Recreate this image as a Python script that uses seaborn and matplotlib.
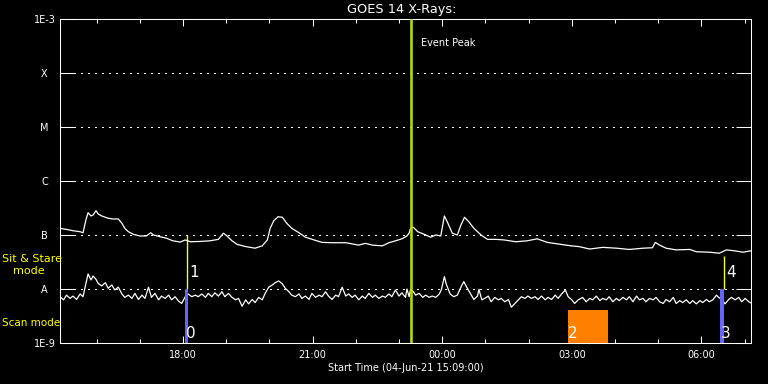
import numpy as np
import matplotlib
matplotlib.use("Agg")
import matplotlib.pyplot as plt
from matplotlib.ticker import NullLocator, FixedLocator
import seaborn as sns

# ---------------- data ----------------
title = "GOES 14 X-Rays:"
x_label = "Start Time (04-Jun-21 15:09:00)"

# minutes after start (15:09 UT), long channel (upper curve), flux in units of 1e-7 W/m^2
time_long_min = [0, 9, 18, 28, 32, 36, 39, 43, 46, 50, 53, 58, 63, 67, 74, 81, 86, 90, 95, 102,
                 111, 120, 126, 130, 139, 148, 157, 167, 174, 181, 195, 208, 220, 227, 232, 239, 246, 258, 271, 281,
                 288, 292, 297, 303, 309, 315, 322, 332, 341, 353, 364, 378, 397, 415, 424, 434, 448, 457, 466, 475,
                 482, 485, 487, 491, 497, 506, 515, 522, 529, 534, 538, 545, 552, 557, 562, 568, 575, 585, 594, 606,
                 617, 633, 649, 663, 677, 696, 710, 721, 736, 754, 773, 791, 810, 823, 827, 833, 842, 856, 875, 884,
                 902, 916, 926, 937, 949, 960]
flux_long_e7 = [1.33, 1.27, 1.20, 1.15, 1.10, 1.90, 2.59, 2.25, 2.35, 2.82, 2.45, 2.25, 2.13, 2.04, 1.98, 1.98, 1.65, 1.33, 1.15, 1.03,
                0.96, 0.96, 1.10, 1.00, 0.93, 0.87, 0.78, 0.74, 0.81, 0.75, 0.76, 0.78, 0.83, 1.08, 0.96, 0.78, 0.67, 0.61, 0.57, 0.63,
                0.81, 1.33, 1.84, 2.18, 2.13, 1.65, 1.33, 1.10, 0.91, 0.81, 0.73, 0.72, 0.72, 0.65, 0.70, 0.65, 0.63, 0.72, 0.78, 0.85,
                0.96, 1.08, 1.33, 1.39, 1.15, 1.03, 0.91, 1.00, 0.96, 2.25, 1.76, 1.08, 1.00, 1.53, 2.13, 1.76, 1.33, 1.00, 0.83, 0.83,
                0.81, 0.75, 0.78, 0.85, 0.73, 0.67, 0.63, 0.61, 0.55, 0.59, 0.57, 0.54, 0.57, 0.58, 0.73, 0.65, 0.57, 0.53, 0.54, 0.49,
                0.48, 0.46, 0.53, 0.51, 0.48, 0.51]

# short channel (lower curve), flux in units of 1e-8 W/m^2
time_short_min = [0, 5, 9, 14, 18, 23, 28, 32, 36, 39, 43, 46, 50, 53, 58, 63, 67, 72, 76, 81,
                  86, 90, 95, 100, 104, 109, 114, 118, 123, 127, 132, 137, 141, 146, 151, 155, 160, 164, 169, 174,
                  178, 183, 188, 192, 197, 202, 206, 211, 215, 220, 225, 229, 234, 239,
                  244, 248, 253, 258, 262, 267, 271, 276, 281, 285, 290, 295, 299, 304, 309, 313, 318, 322, 327, 332,
                  336, 341, 346, 350, 355, 360, 364, 369, 373, 378, 383, 387, 392, 397, 401, 406, 410, 415, 420, 424,
                  429, 434, 438, 443, 448, 452, 457, 461, 466, 471, 475, 480,
                  482, 485, 487, 491, 494, 499, 504, 508, 513, 517, 522, 527, 530, 534, 537, 542, 547, 552, 557, 561,
                  565, 570, 575, 580, 582, 586, 590, 595, 599, 604, 609, 613, 618, 623, 627, 632, 637, 641, 646, 650,
                  655, 660, 664, 669, 674, 678, 683, 688, 692, 697, 702, 706, 711, 715, 720,
                  726, 731, 736, 740, 745, 750, 754, 759, 763, 768, 773, 777, 782, 787, 791, 796, 801, 805, 810, 814,
                  819, 824, 828, 833, 838, 842, 847, 852, 856, 861, 865, 870, 875, 879, 884, 889, 893, 898, 902, 907,
                  912, 915, 920, 924, 929, 933, 938, 943, 947, 952, 957, 960]
flux_short_e8 = [0.72, 0.63, 0.77, 0.67, 0.74, 0.64, 0.81, 0.72, 1.27, 1.90, 1.47, 1.74, 1.51, 1.27, 1.14, 1.31, 1.03, 1.19, 0.96, 1.08,
                 0.81, 0.70, 0.77, 0.67, 0.83, 0.64, 0.77, 0.67, 1.08, 0.70, 0.83, 0.63, 0.74, 0.67, 0.77, 0.63, 0.72, 0.61, 0.54, 0.72,
                 0.81, 0.72, 0.77, 0.72, 0.81, 0.70, 0.83, 0.72, 0.85, 0.74, 0.89, 0.72, 0.83, 0.70,
                 0.63, 0.67, 0.48, 0.63, 0.53, 0.64, 0.56, 0.70, 0.63, 0.83, 1.08, 1.19, 1.31, 1.41, 1.24, 1.03, 0.89, 0.77, 0.72, 0.81,
                 0.67, 0.74, 0.64, 0.83, 0.70, 0.77, 0.72, 0.89, 0.74, 0.64, 0.77, 0.72, 1.08, 0.74, 0.81, 0.70, 0.77, 0.63, 0.74, 0.67,
                 0.83, 0.70, 0.77, 0.67, 0.74, 0.70, 0.81, 0.72, 0.96, 0.74, 0.85, 0.70,
                 1.00, 0.72, 0.99, 0.89, 0.77, 0.83, 0.70, 0.77, 0.70, 0.74, 0.70, 0.81, 0.99, 1.69, 1.19, 0.81, 0.72, 0.77, 1.08, 1.37,
                 1.08, 0.83, 0.64, 0.74, 0.99, 0.63, 0.67, 0.74, 0.58, 0.70, 0.63, 0.67, 0.58, 0.64, 0.46, 0.54, 0.63, 0.72, 0.67, 0.74,
                 0.67, 0.72, 0.64, 0.74, 0.63, 0.70, 0.64, 0.77, 0.67, 0.81, 0.96, 0.72, 0.63, 0.54, 0.63,
                 0.70, 0.58, 0.67, 0.63, 0.74, 0.61, 0.67, 0.63, 0.72, 0.58, 0.67, 0.61, 0.70, 0.63, 0.72, 0.58, 0.74, 0.63, 0.67, 0.58,
                 0.67, 0.63, 0.70, 0.58, 0.54, 0.64, 0.58, 0.70, 0.54, 0.61, 0.56, 0.63, 0.54, 0.61, 0.53, 0.61, 0.56, 0.64, 0.58, 0.63,
                 0.77, 0.70, 0.63, 0.53, 0.64, 0.70, 0.63, 0.70, 0.58, 0.67, 0.58, 0.55]

level_values = [1e-9, 1e-8, 1e-7, 1e-6, 1e-5, 1e-4, 1e-3]
level_labels = ["1E-9", "A", "B", "C", "M", "X", "1E-3"]
grid_levels = [1e-8, 1e-7, 1e-6, 1e-5, 1e-4]

hour_ticks_min = [51, 111, 171, 231, 291, 351, 411, 471, 531, 591, 651, 711, 771, 831, 891, 951]
label_ticks_min = [171, 351, 531, 711, 891]
label_ticks_text = ["18:00", "21:00", "00:00", "03:00", "06:00"]

event_peak_min = 487
event_text = "Event Peak"

sit_stare_min = [176.8, 922.5]
sit_stare_top = [1.0e-7, 4.1e-8]
sit_stare_labels = ["1", "4"]
scan_min = [175.8, 919.6]
scan_labels = ["0", "3"]
slit_start_min = [706]
slit_end_min = [762]
slit_top = [4.1e-9]
slit_labels = ["2"]

# ---------------- style ----------------
sns.set_theme(style="dark", rc={
    "figure.facecolor": "black", "axes.facecolor": "black",
    "axes.edgecolor": "white", "text.color": "white",
    "xtick.color": "white", "ytick.color": "white",
    "axes.grid": False, "axes.linewidth": 0.75,
})
plt.rcParams["font.family"] = ["DejaVu Sans"]

W, H = 768, 384
fig = plt.figure(figsize=(W / 100, H / 100), dpi=100)
ax = fig.add_axes([60 / W, 41 / H, 691 / W, 324 / H])
ax.set_facecolor("black")

flux_long = np.array(flux_long_e7) * 1e-7
flux_short = np.array(flux_short_e8) * 1e-8

# dotted class levels
for lv in grid_levels:
    ax.axhline(lv, color="white", lw=0.75, linestyle=(0, (1, 5)), zorder=1, antialiased=False)

# sit & stare markers (yellow)
ax.vlines(sit_stare_min, [1e-8] * len(sit_stare_min), sit_stare_top, colors="#ffff00", lw=1.0, zorder=2)

sns.lineplot(x=time_long_min, y=flux_long, ax=ax, color="white", lw=0.9,
             estimator=None, sort=False, zorder=3)
sns.lineplot(x=time_short_min, y=flux_short, ax=ax, color="white", lw=0.9,
             estimator=None, sort=False, zorder=3)

# scan markers (blue) and slit region (orange)
ax.bar(scan_min, [1e-8 - 1e-9] * len(scan_min), bottom=1e-9, width=4.6,
       color="#6464ff", edgecolor="none", linewidth=0, zorder=4, align="center")
ax.bar(slit_start_min, [t - 1e-9 for t in slit_top], bottom=1e-9,
       width=[e - s for s, e in zip(slit_start_min, slit_end_min)],
       color="#ff8000", edgecolor="none", linewidth=0, zorder=4, align="edge")

# event peak line
ax.axvline(event_peak_min, color="#b4d800", lw=1.9, zorder=5)
ax.annotate(event_text, xy=(event_peak_min, 3.6e-4), xytext=(7.5, 0), textcoords="offset points",
            ha="left", va="center", fontsize=7, color="white")

for t, lab in zip(sit_stare_min, sit_stare_labels):
    ax.annotate(lab, xy=(t, 2.06e-8), xytext=(1.5, 0), textcoords="offset points",
                ha="left", va="center", fontsize=11, color="white", zorder=6)
for t, lab in zip(scan_min, scan_labels):
    ax.annotate(lab, xy=(t, 1.53e-9), xytext=(-0.5, 0), textcoords="offset points",
                ha="left", va="center", fontsize=11, color="white", zorder=6)
for t, lab in zip(slit_start_min, slit_labels):
    ax.annotate(lab, xy=(t, 1.53e-9), xytext=(0, 0), textcoords="offset points",
                ha="left", va="center", fontsize=11, color="white", zorder=6)

# axes
ax.set_yscale("log")
ax.set_ylim(1e-9, 1e-3)
ax.set_xlim(0, 960)
ax.set_xlabel("")
ax.set_ylabel("")

ax.yaxis.set_major_locator(FixedLocator(level_values))
ax.yaxis.set_minor_locator(NullLocator())
ax.set_yticklabels(level_labels)
ax.tick_params(axis="y", which="major", direction="in", length=10.8, width=0.75,
               left=True, right=True, pad=11.2, labelsize=7)
for lab in ax.get_yticklabels():
    lab.set_horizontalalignment("center")

ax.set_xticks(label_ticks_min)
ax.set_xticklabels(label_ticks_text)
ax.xaxis.set_minor_locator(FixedLocator(hour_ticks_min))
ax.tick_params(axis="x", which="major", direction="in", length=4.7, width=0.75,
               top=True, bottom=True, pad=5.3, labelsize=7)
ax.tick_params(axis="x", which="minor", direction="in", length=2.7, width=0.75,
               top=True, bottom=True)

for sp in ax.spines.values():
    sp.set_color("white")
    sp.set_linewidth(0.75)
    sp.set_visible(True)

# titles and side labels
fig.text(402 / W, 1 - 9.5 / H, title, ha="center", va="center", fontsize=9.3, color="white")
fig.text(405.5 / W, 1 - 368 / H, x_label, ha="center", va="center", fontsize=7, color="white")
fig.text(2 / W, 1 - 259 / H, "Sit & Stare", ha="left", va="center", fontsize=8, color="#ffff00")
fig.text(12.5 / W, 1 - 271 / H, "mode", ha="left", va="center", fontsize=8, color="#ffff00")
fig.text(2 / W, 1 - 323 / H, "Scan mode", ha="left", va="center", fontsize=7.5, color="#ffff00")

fig.savefig("out.png", dpi=100, facecolor="black")
